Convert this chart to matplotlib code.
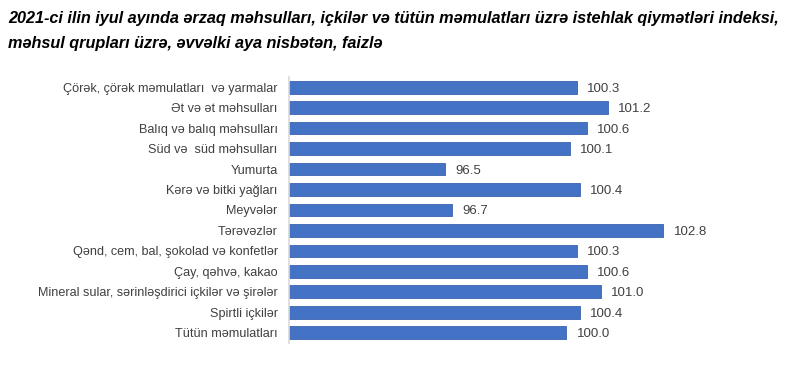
import matplotlib.pyplot as plt

categories = [
    "Çörək, çörək məmulatları  və yarmalar",
    "Ət və ət məhsulları",
    "Balıq və balıq məhsulları",
    "Süd və  süd məhsulları",
    "Yumurta",
    "Kərə və bitki yağları",
    "Meyvələr",
    "Tərəvəzlər",
    "Qənd, cem, bal, şokolad və konfetlər",
    "Çay, qəhvə, kakao",
    "Mineral sular, sərinləşdirici içkilər və şirələr",
    "Spirtli içkilər",
    "Tütün məmulatları",
]
values = [100.3, 101.2, 100.6, 100.1, 96.5, 100.4, 96.7, 102.8, 100.3, 100.6, 101.0, 100.4, 100.0]

plt.rcParams['font.family'] = ['Liberation Sans', 'DejaVu Sans']

fig = plt.figure(figsize=(8, 3.72), dpi=100)
ax = fig.add_axes([0.361, 0.078, 0.52, 0.715])

base = 92
y = list(range(len(categories)))
ax.barh(y, [v - base for v in values], left=base, height=0.62,
        color='#4472C4', edgecolor='#3A64B0', linewidth=0.6)
for yi, v in zip(y, values):
    ax.text(v + 0.3, yi, f"{v:.1f}", va='center_baseline', ha='left', fontsize=9.5, color='#404040')

ax.set_xlim(base, 104)
ax.set_ylim(len(categories) - 0.5, -0.5)
ax.set_yticks(y)
ax.set_yticklabels(categories, fontsize=9.1, color='#404040', va='center_baseline')
ax.tick_params(axis='y', length=0, pad=8)
ax.set_xticks([])
for s in ['top', 'right', 'bottom']:
    ax.spines[s].set_visible(False)
ax.spines['left'].set_color('#D9D9D9')
ax.spines['left'].set_linewidth(1.2)

fig.text(0.01, 0.949, "2021-ci ilin iyul ayında ərzaq məhsulları, içkilər və tütün məmulatları üzrə istehlak qiymətləri indeksi,",
         fontsize=11.7, fontweight='bold', fontstyle='italic', va='center', color='black')
fig.text(0.01, 0.884, "məhsul qrupları üzrə, əvvəlki aya nisbətən, faizlə",
         fontsize=11.7, fontweight='bold', fontstyle='italic', va='center', color='black')

fig.savefig('out.png', dpi=100)
